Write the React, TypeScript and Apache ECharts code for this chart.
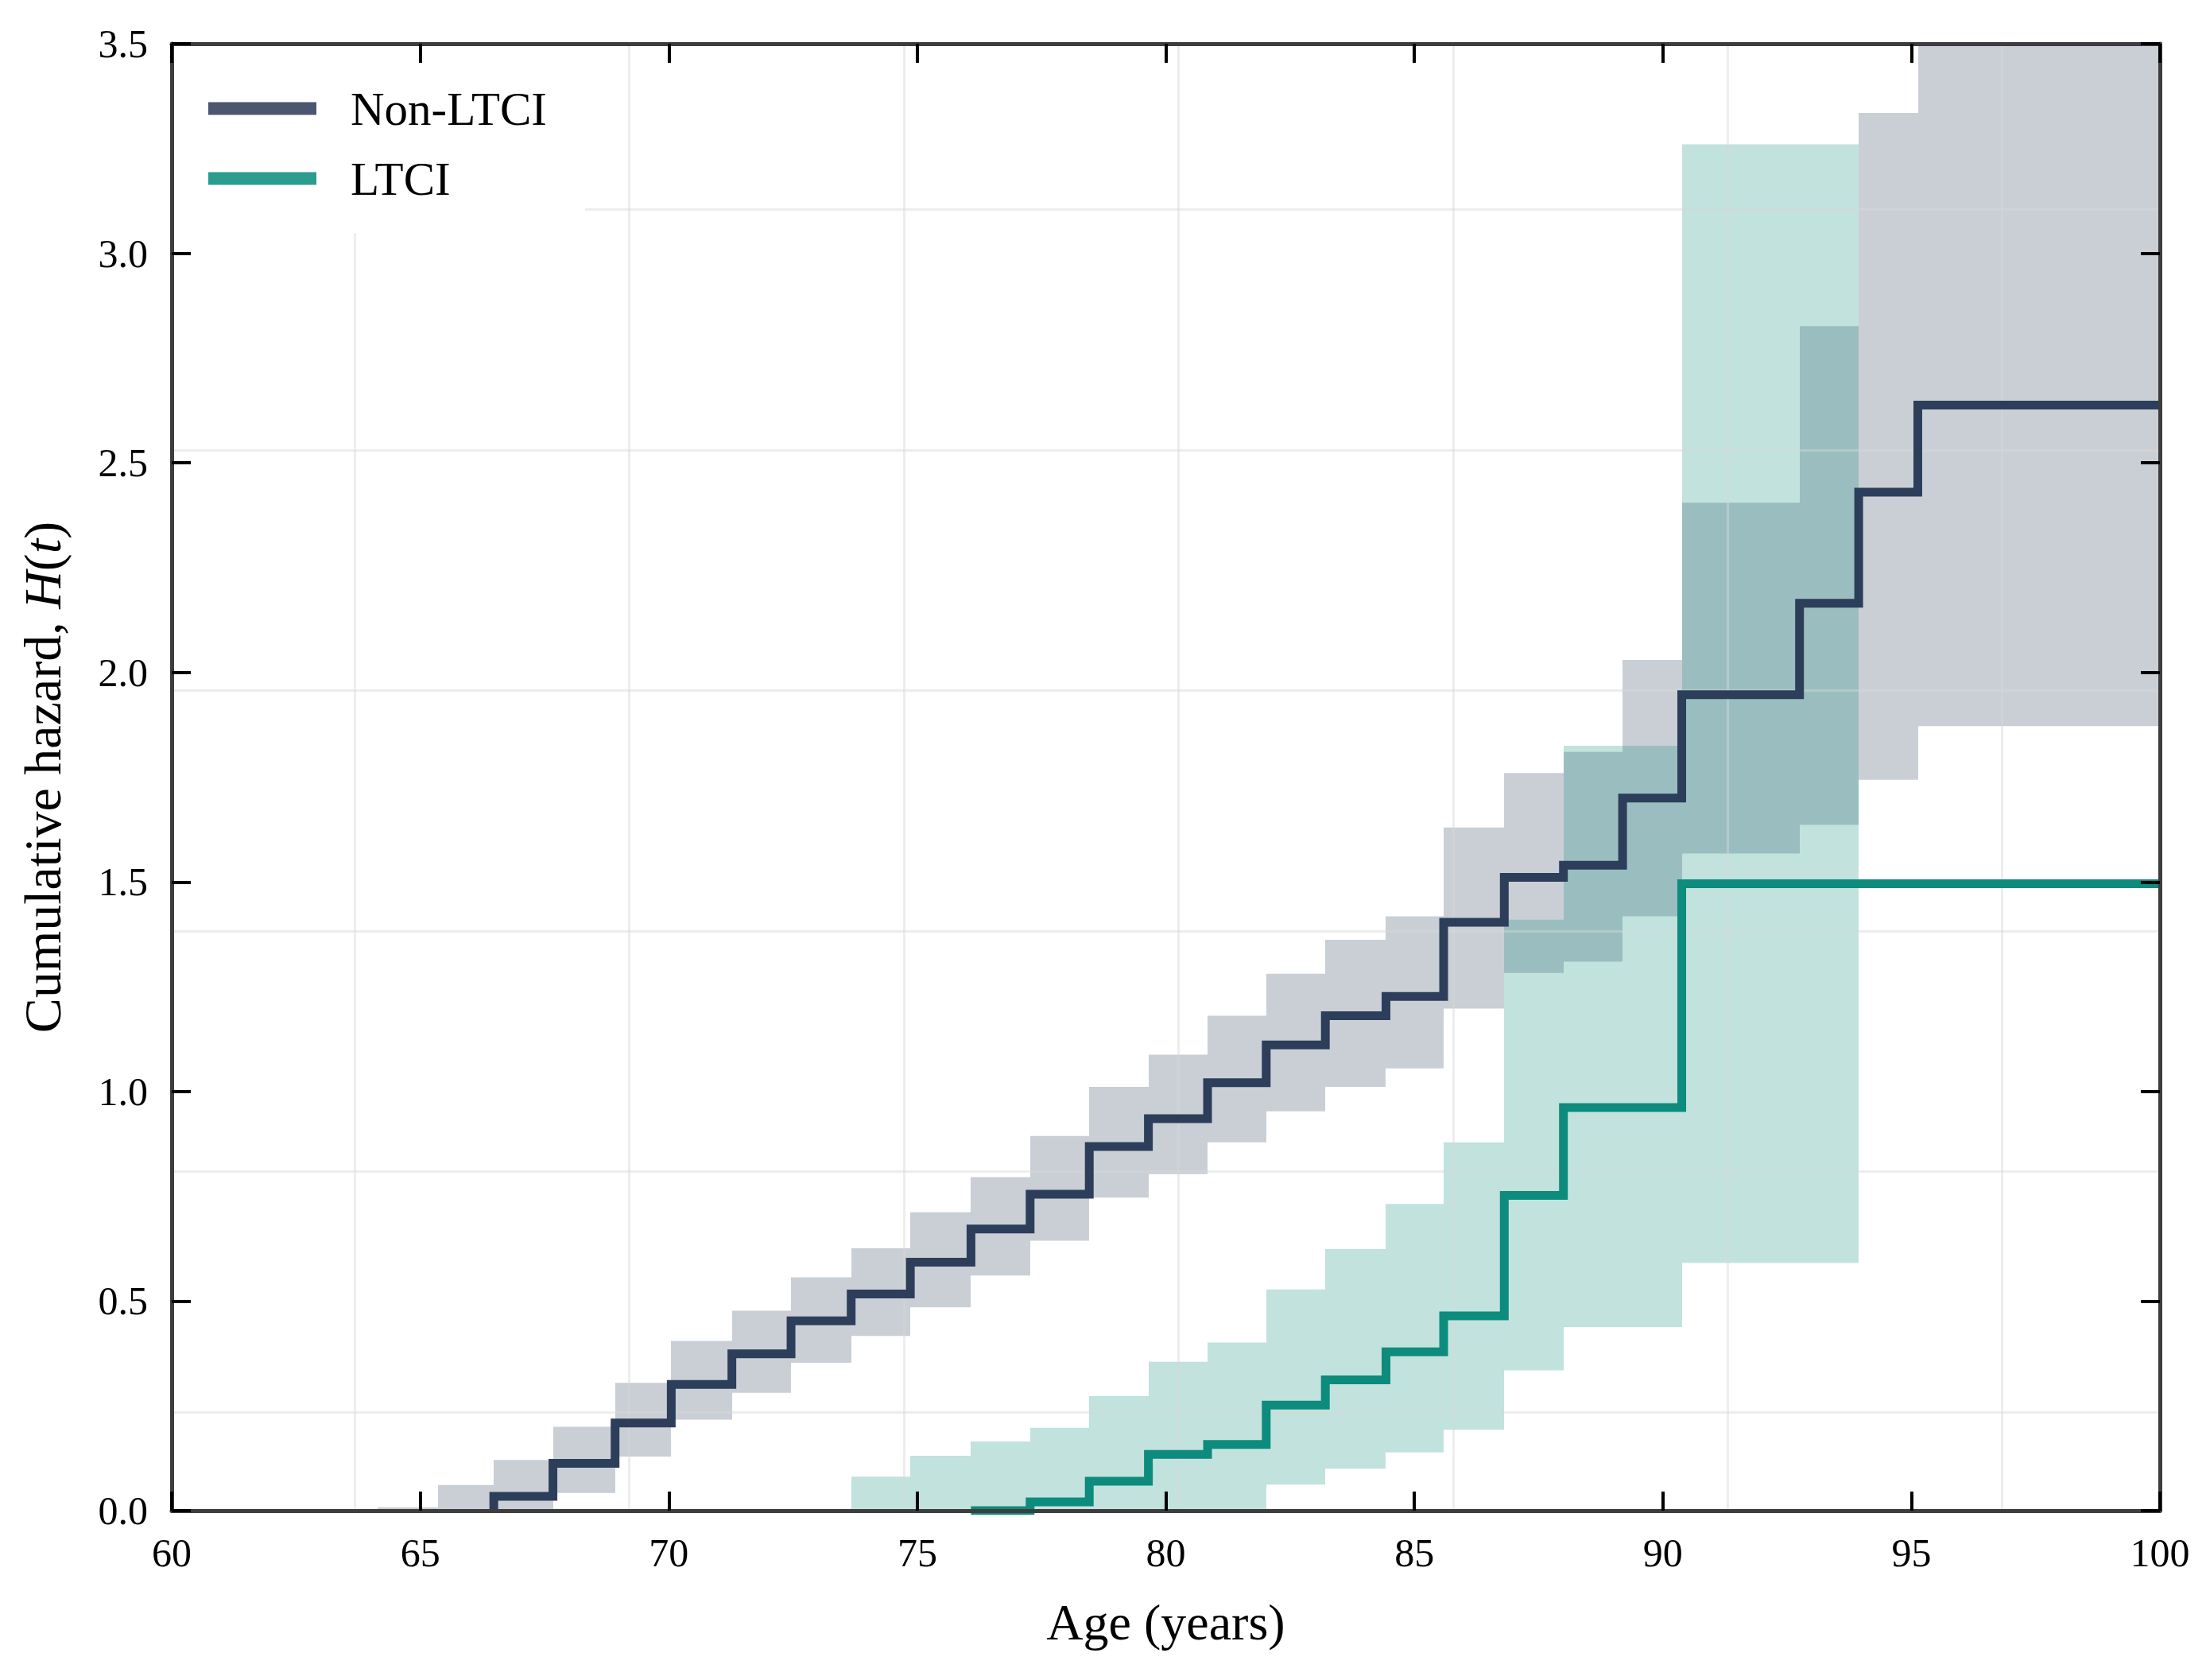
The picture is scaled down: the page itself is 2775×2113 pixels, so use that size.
import React, { useEffect, useRef } from "react";
import * as echarts from "echarts";

// ---- Data ----
const seriesNames = ["Non-LTCI", "LTCI"];

// Non-LTCI: cumulative hazard with 95% CI (step function, value holds until next time)
const nonTimes = [64.15, 65.35, 66.48, 67.67, 68.92, 70.05, 71.27, 72.46, 73.67, 74.86, 76.08, 77.27, 78.46, 79.65, 80.84, 82.02, 83.21, 84.43, 85.59, 86.81, 88.0, 89.19, 90.38, 92.75, 93.94, 95.13, 100];
const nonH = [0, 0, 0.034, 0.113, 0.209, 0.301, 0.374, 0.453, 0.517, 0.593, 0.672, 0.755, 0.869, 0.935, 1.021, 1.111, 1.181, 1.227, 1.404, 1.511, 1.54, 1.7, 1.947, 2.165, 2.43, 2.638, 2.638];
const nonLower = [0, 0, 0, 0.042, 0.129, 0.217, 0.281, 0.353, 0.417, 0.485, 0.561, 0.644, 0.747, 0.803, 0.879, 0.953, 1.011, 1.055, 1.198, 1.283, 1.31, 1.418, 1.568, 1.636, 1.744, 1.872, 1.872];
const nonUpper = [0.008, 0.061, 0.121, 0.2, 0.305, 0.405, 0.477, 0.557, 0.626, 0.712, 0.796, 0.894, 1.011, 1.088, 1.181, 1.281, 1.362, 1.418, 1.63, 1.76, 1.81, 2.03, 2.405, 2.826, 3.335, 3.9, 3.9];

// LTCI
const ltciTimes = [76.08, 77.27, 78.46, 79.65, 80.84, 82.02, 83.21, 84.43, 85.59, 86.81, 88.0, 90.38, 100];
const ltciH = [0, 0.021, 0.07, 0.134, 0.158, 0.252, 0.312, 0.379, 0.465, 0.752, 0.962, 1.496, 1.496];
const ltciBandTimes = [72.54, 73.67, 74.86, 76.08, 77.27, 78.46, 79.65, 80.84, 82.02, 83.21, 84.43, 85.59, 86.81, 88.0, 90.38, 93.94];
const ltciLower = [0, 0, 0, 0, 0, 0, 0, 0, 0.062, 0.1, 0.139, 0.193, 0.335, 0.438, 0.591, 0.591];
const ltciUpper = [0.004, 0.081, 0.131, 0.165, 0.198, 0.273, 0.355, 0.401, 0.528, 0.624, 0.732, 0.879, 1.41, 1.825, 3.26, 3.26];

// Axis ticks
const xTicks = [60, 65, 70, 75, 80, 85, 90, 95, 100];
const yTicks = [0, 0.5, 1.0, 1.5, 2.0, 2.5, 3.0, 3.5];

// Faint background grid (offset from the ticks in the reference), in its own units
const gridXExtent = [-0.666, 6.574];
const gridYExtent = [-0.4097, 5.69];

// ---- Styles ----
const FONT = "Liberation Serif";
const NAVY = "#2c3e5a";
const TEAL = "#0d8b7c";
const NAVY_BAND = "rgba(44,62,90,0.25)";
const TEAL_BAND = "rgba(13,139,124,0.25)";
const LEGEND_NAVY = "#4b566f";
const LEGEND_TEAL = "#2a9d8f";

const pairs = (xs: number[], ys: number[]) => xs.map((x, i) => [x, ys[i]]);
// Line begins at the first rise (vertical from the previous level)
const fromFirstRise = (xs: number[], ys: number[]) => {
  const k = ys.findIndex((v) => v > 0);
  return [[xs[k], ys[k - 1]], ...pairs(xs.slice(k), ys.slice(k))];
};
const segments = (times: number[], lower: number[], upper: number[]) =>
  times.slice(0, -1).map((t, i) => [t, times[i + 1], lower[i], upper[i]]);

const frameLine = { show: true, onZero: false, lineStyle: { color: "#3d3d3d", width: 5 } };
const frameTick = { show: true, inside: true, length: 24, lineStyle: { color: "#000", width: 4 } };
const hiddenAxisParts = {
  axisLine: { show: false },
  axisTick: { show: false },
  axisLabel: { show: false },
  splitLine: { show: true, lineStyle: { color: "rgba(215,215,215,0.45)", width: 3 } },
};

const bandSeries = (times: number[], lower: number[], upper: number[], color: string) => ({
  type: "custom",
  data: segments(times, lower, upper),
  encode: { x: [0, 1], y: [2, 3] },
  silent: true,
  z: 2,
  renderItem: (params: any, api: any) => {
    const p0 = api.coord([api.value(0), api.value(3)]);
    const p1 = api.coord([api.value(1), api.value(2)]);
    const x0 = Math.round(p0[0]);
    const x1 = Math.round(p1[0]);
    const cs = params.coordSys;
    const rect = echarts.graphic.clipRectByRect(
      { x: x0, y: p0[1], width: x1 - x0, height: p1[1] - p0[1] },
      { x: cs.x, y: cs.y, width: cs.width, height: cs.height }
    );
    if (!rect) return null;
    return { type: "rect", shape: rect, style: { fill: color } };
  },
});

const option: any = {
  animation: false,
  backgroundColor: "#ffffff",
  textStyle: { fontFamily: FONT, color: "#000" },
  grid: { left: 216, right: 58, top: 55, bottom: 213 },
  legend: {
    orient: "vertical",
    left: 218,
    top: 57,
    backgroundColor: "#ffffff",
    padding: [50, 48, 39, 44],
    itemGap: 29,
    itemWidth: 136,
    itemHeight: 16,
    icon: "rect",
    itemStyle: { borderWidth: 0 },
    textStyle: { fontFamily: FONT, fontSize: 59, color: "#000", padding: [0, 0, 0, 38] },
    data: [
      { name: seriesNames[0], itemStyle: { color: LEGEND_NAVY, borderWidth: 0 } },
      { name: seriesNames[1], itemStyle: { color: LEGEND_TEAL, borderWidth: 0 } },
    ],
    z: 4,
  },
  xAxis: [
    {
      type: "value",
      position: "bottom",
      min: xTicks[0],
      max: xTicks[xTicks.length - 1],
      interval: xTicks[1] - xTicks[0],
      axisLine: frameLine,
      axisTick: frameTick,
      axisLabel: { fontFamily: FONT, fontSize: 50, color: "#000", margin: 28 },
      splitLine: { show: false },
      name: "Age (years)",
      nameLocation: "middle",
      nameGap: 108,
      nameTextStyle: { fontFamily: FONT, fontSize: 64, color: "#000" },
      z: 10,
    },
    {
      type: "value",
      position: "top",
      min: xTicks[0],
      max: xTicks[xTicks.length - 1],
      interval: xTicks[1] - xTicks[0],
      axisLine: frameLine,
      axisTick: frameTick,
      axisLabel: { show: false },
      splitLine: { show: false },
      z: 10,
    },
    {
      type: "value",
      position: "bottom",
      min: gridXExtent[0],
      max: gridXExtent[1],
      splitNumber: 7,
      ...hiddenAxisParts,
      z: 3,
    },
  ],
  yAxis: [
    {
      type: "value",
      position: "left",
      min: yTicks[0],
      max: yTicks[yTicks.length - 1],
      interval: yTicks[1] - yTicks[0],
      axisLine: frameLine,
      axisTick: frameTick,
      axisLabel: {
        fontFamily: FONT,
        fontSize: 50,
        color: "#000",
        margin: 30,
        formatter: (v: number) => v.toFixed(1),
      },
      splitLine: { show: false },
      name: "{n|Cumulative hazard, }{i|H}{n|(}{i|t}{n|)}",
      nameLocation: "middle",
      nameGap: 130,
      nameTextStyle: {
        fontFamily: FONT,
        fontSize: 66,
        color: "#000",
        rich: {
          n: { fontFamily: FONT, fontSize: 66, color: "#000" },
          i: { fontFamily: FONT, fontSize: 66, color: "#000", fontStyle: "italic" },
        },
      },
      z: 10,
    },
    {
      type: "value",
      position: "right",
      min: yTicks[0],
      max: yTicks[yTicks.length - 1],
      interval: yTicks[1] - yTicks[0],
      axisLine: frameLine,
      axisTick: frameTick,
      axisLabel: { show: false },
      splitLine: { show: false },
      z: 10,
    },
    {
      type: "value",
      position: "left",
      min: gridYExtent[0],
      max: gridYExtent[1],
      splitNumber: 6,
      ...hiddenAxisParts,
      z: 3,
    },
  ],
  series: [
    bandSeries(nonTimes, nonLower, nonUpper, NAVY_BAND),
    bandSeries(ltciBandTimes, ltciLower, ltciUpper, TEAL_BAND),
    {
      name: seriesNames[0],
      type: "line",
      step: "end",
      data: fromFirstRise(nonTimes, nonH),
      symbol: "none",
      showSymbol: false,
      lineStyle: { color: NAVY, width: 11, join: "miter", cap: "butt" },
      itemStyle: { color: NAVY },
      z: 4,
    },
    {
      name: seriesNames[1],
      type: "line",
      step: "end",
      data: pairs(ltciTimes, ltciH),
      symbol: "none",
      showSymbol: false,
      lineStyle: { color: TEAL, width: 11, join: "miter", cap: "butt" },
      itemStyle: { color: TEAL },
      z: 4,
    },
  ],
};

export default function App() {
  const ref = useRef<HTMLDivElement>(null);
  useEffect(() => {
    document.body.style.margin = "0";
    const chart = echarts.init(ref.current as HTMLDivElement, null, { renderer: "svg" });
    chart.setOption(option);
    return () => chart.dispose();
  }, []);
  return <div ref={ref} style={{ width: 2775, height: 2113, background: "#fff" }} />;
}
